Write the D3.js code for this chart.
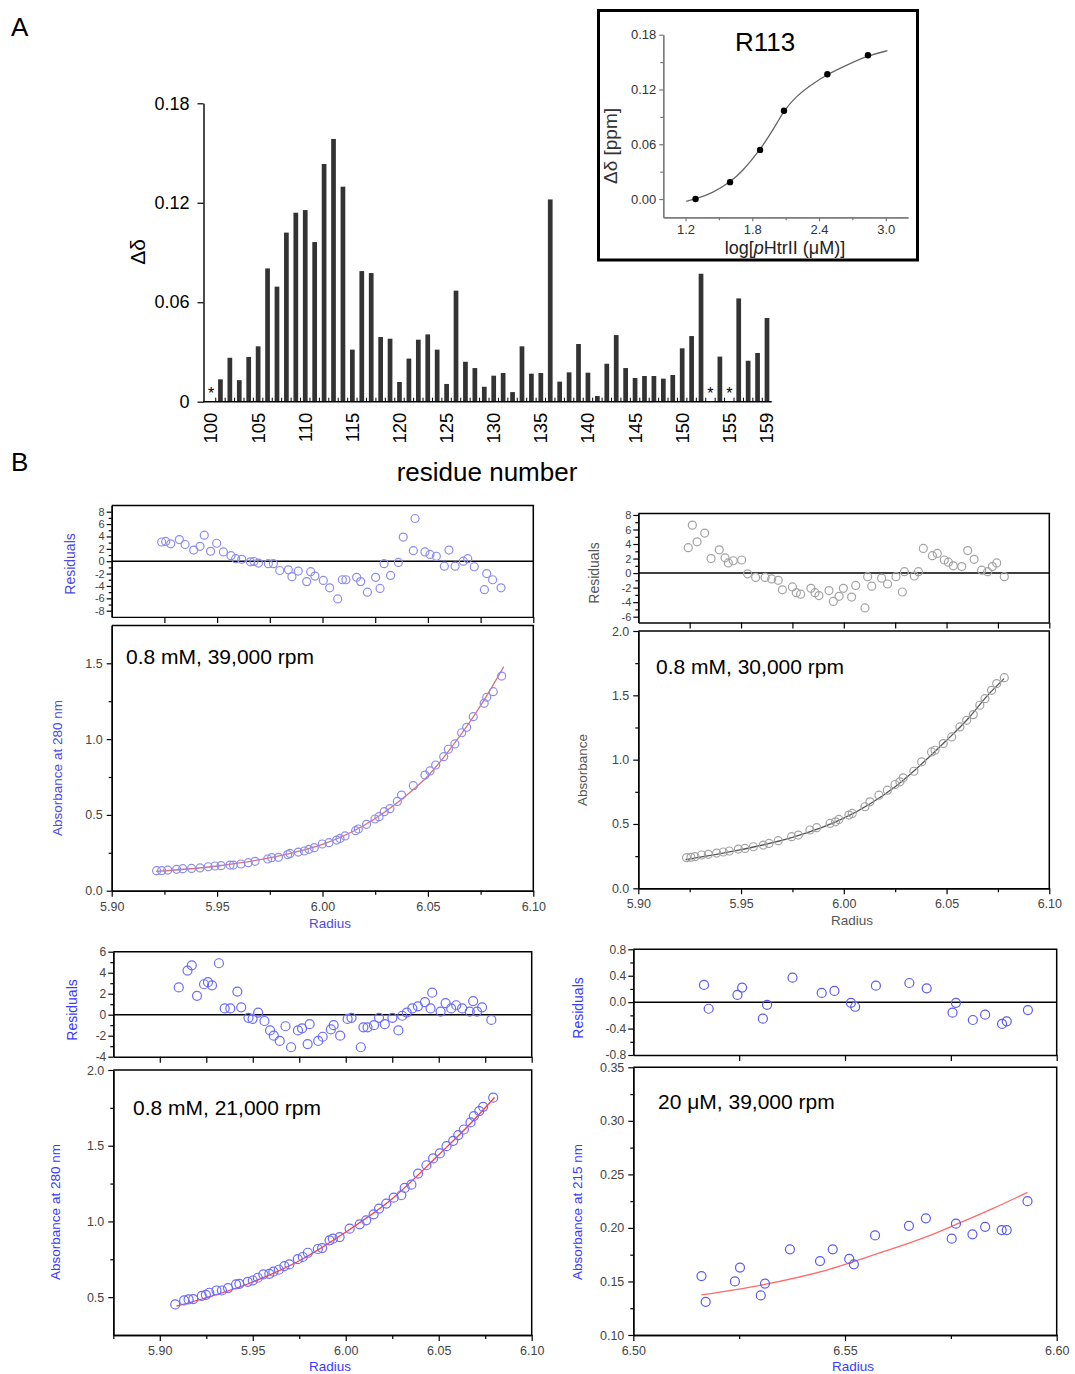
<!DOCTYPE html>
<html>
<head>
<meta charset="utf-8">
<title>Chemical shift perturbation and sedimentation equilibrium</title>
<script src="https://d3js.org/d3.v7.min.js"></script>
<style>
  body { margin: 0; background: #fff; }
  svg { display: block; font-family: Arial, "Liberation Sans", sans-serif; }
</style>
</head>
<body>
<svg width="1075" height="1374"></svg>
<script>
// ---- panel A: chemical shift change per residue (null = not assigned, drawn as *)
const residueNumbers = [100,101,102,103,104,105,106,107,108,109,110,111,112,113,114,115,116,117,118,119,
  120,121,122,123,124,125,126,127,128,129,130,131,132,133,134,135,136,137,138,139,
  140,141,142,143,144,145,146,147,148,149,150,151,152,153,154,155,156,157,158,159];
const chemShift = [null,0.0135,0.0265,0.013,0.027,0.0334,0.0804,0.0694,0.102,0.114,
  0.1156,0.0963,0.1434,0.1585,0.1297,0.0314,0.0788,0.0776,0.039,0.038,
  0.0119,0.026,0.0374,0.0406,0.0314,0.0107,0.067,0.0241,0.0203,0.009,
  0.0157,0.0173,0.0058,0.0334,0.0169,0.0173,0.122,0.0121,0.0177,0.0348,
  0.0175,0.0034,0.0229,0.0402,0.0203,0.0143,0.0155,0.0155,0.0139,0.0161,
  0.0322,0.0396,0.0772,null,0.0272,null,0.0623,0.0247,0.0294,0.0505];
const residueTicks = [100,105,110,115,120,125,130,135,140,145,150,155,159];
const shiftTicks = [0, 0.06, 0.12, 0.18];

// inset: titration of R113
const titrLogConc = [1.29, 1.60, 1.87, 2.085, 2.475, 2.84];
const titrShift = [0.0, 0.0185, 0.0538, 0.0967, 0.1367, 0.1575];
const titrFitConc = [1.206, 1.29, 1.44, 1.60, 1.71, 1.87, 1.95, 2.025, 2.085, 2.19, 2.31, 2.475, 2.64, 2.84, 3.015];
const titrFitShift = [-0.0025, 0.0, 0.0062, 0.0185, 0.030, 0.0538, 0.069, 0.0838, 0.0967, 0.112, 0.1235, 0.1367, 0.1462, 0.1571, 0.1625];

// ---- panel B: 0.8 mM, 39,000 rpm
const tlResRadius = [5.9237,5.9256,5.928,5.9321,5.9348,5.9389,5.9419,5.9439,5.9469,5.9498,5.953,5.9566,5.9588,5.9617,
  5.9658,5.9675,5.9696,5.9743,5.9767,5.9797,5.9838,5.9855,5.9885,5.9925,5.9944,5.9964,6.0004,6.0034,6.0072,6.0094,
  6.0111,6.0162,6.0181,6.0213,6.0252,6.0273,6.0292,6.0323,6.036,6.0383,6.0431,6.0439,6.0486,6.051,6.054,6.0578,
  6.06,6.0629,6.0668,6.0689,6.072,6.0768,6.0779,6.0807,6.0847];
const tlResidual = [3.1,3.2,2.8,3.5,2.7,1.8,2.4,4.2,1.6,2.9,1.5,0.9,0.4,0.3,-0.1,-0.05,-0.3,-0.4,-0.4,-1.5,-1.4,-2.5,
  -1.6,-3.3,-1.7,-2.4,-3.1,-4.3,-6.1,-3.0,-3.0,-2.6,-3.3,-5.0,-2.6,-4.4,-0.4,-2.3,-0.2,3.9,1.7,6.9,1.5,1.1,0.8,
  -0.8,1.8,-0.8,0.0,0.4,-0.9,-4.6,-2.0,-3.0,-4.3];
const tlRadius = [5.9213,5.9237,5.9266,5.9308,5.9337,5.9379,5.9419,5.9458,5.949,5.9519,5.9561,5.9577,5.9613,5.9648,
  5.968,5.974,5.9759,5.9791,5.9835,5.9846,5.9885,5.9914,5.9936,5.9961,5.9999,6.0031,6.0067,6.0083,6.0107,6.0157,
  6.017,6.0209,6.0249,6.0268,6.0293,6.032,6.0355,6.0375,6.0431,6.0486,6.051,6.0537,6.0575,6.0597,6.0628,6.066,
  6.0684,6.0715,6.0767,6.0779,6.081,6.085];
const tlAbsorbance = [0.132,0.132,0.136,0.141,0.145,0.147,0.15,0.158,0.163,0.165,0.169,0.169,0.176,0.185,0.194,0.209,
  0.218,0.22,0.238,0.246,0.255,0.262,0.273,0.284,0.308,0.317,0.334,0.345,0.361,0.396,0.407,0.438,0.473,0.488,0.521,
  0.541,0.589,0.631,0.693,0.763,0.79,0.829,0.884,0.933,0.968,1.042,1.078,1.148,1.236,1.276,1.313,1.416];
const tlFitRadius = [5.921,5.95,5.98,6.00,6.02,6.04,6.05,6.06,6.07,6.08,6.086];
const tlFitAbs = [0.127,0.163,0.231,0.305,0.433,0.631,0.757,0.924,1.115,1.335,1.478];

// 0.8 mM, 30,000 rpm
const trResRadius = [5.9243,5.9263,5.9286,5.9323,5.9354,5.9394,5.9422,5.9438,5.9462,5.9503,5.9532,5.9571,5.9617,5.9649,
  5.9681,5.9701,5.975,5.9769,5.979,5.984,5.986,5.9879,5.9928,5.9949,5.9977,5.9998,6.0038,6.0058,6.0103,6.0116,
  6.0136,6.0184,6.0213,6.0254,6.0285,6.0295,6.0343,6.0363,6.0387,6.0431,6.0455,6.0489,6.0509,6.0533,6.0574,6.0603,
  6.0634,6.0671,6.07,6.0723,6.0744,6.0781];
const trResidual = [3.5,6.6,4.3,5.5,2.0,3.2,2.1,1.4,1.7,1.8,-0.1,-0.6,-0.6,-0.8,-1.0,-2.3,-1.9,-2.7,-2.9,-2.1,-2.7,-3.1,
  -2.4,-3.9,-3.2,-2.1,-3.3,-1.7,-4.8,-0.5,-1.8,-0.7,-1.5,-0.5,-2.6,0.2,-0.4,0.2,3.4,2.4,2.7,1.8,1.5,1.0,0.9,3.1,1.9,
  0.4,0.2,0.9,1.4,-0.5];
const trRadius = [5.9235,5.9256,5.9276,5.9308,5.9341,5.9381,5.9414,5.9443,5.9487,5.9519,5.956,5.9608,5.9636,5.9681,
  5.9746,5.9779,5.9835,5.9868,5.9933,5.996,5.9976,6.0025,6.0041,6.0103,6.0127,6.0171,6.0212,6.0249,6.0273,6.0289,
  6.0341,6.0379,6.0427,6.0444,6.0484,6.0525,6.0565,6.0598,6.063,6.0662,6.0687,6.0719,6.0744,6.0781];
const trAbsorbance = [0.238,0.241,0.246,0.259,0.264,0.274,0.282,0.29,0.305,0.31,0.323,0.336,0.349,0.37,0.401,0.414,
  0.453,0.471,0.504,0.517,0.535,0.569,0.582,0.634,0.672,0.724,0.763,0.807,0.828,0.859,0.91,0.983,1.06,1.073,1.125,
  1.177,1.254,1.306,1.35,1.423,1.474,1.539,1.591,1.637];
const trFitRadius = [5.923,5.95,5.975,6.00,6.025,6.05,6.06,6.07,6.078];
const trFitAbs = [0.222,0.30,0.395,0.545,0.79,1.15,1.31,1.50,1.63];

// 0.8 mM, 21,000 rpm
const blResRadius = [5.9102,5.9149,5.9172,5.92,5.9238,5.9259,5.9281,5.9318,5.9349,5.9379,5.9417,5.9438,5.9477,5.9499,
  5.9529,5.9563,5.9593,5.9613,5.9645,5.9676,5.9706,5.9743,5.9765,5.9795,5.9806,5.9852,5.9876,5.992,5.9935,5.997,
  6.001,6.0031,6.0081,6.0095,6.0117,6.0152,6.0179,6.021,6.0251,6.0283,6.0304,6.0328,6.0358,6.0388,6.0426,6.0456,
  6.0465,6.051,6.0537,6.0567,6.0594,6.0626,6.0667,6.0685,6.0706,6.0733,6.0783];
const blResidual = [2.6,4.2,4.7,1.8,2.9,3.1,2.8,4.9,0.6,0.6,2.2,0.7,-0.3,-0.4,0.2,-0.6,-1.5,-2.0,-2.5,-1.1,-3.1,-1.5,
  -1.3,-2.8,-0.9,-2.5,-2.1,-1.4,-1.0,-2.0,-0.4,-0.3,-3.1,-1.2,-1.2,-1.0,-0.3,-0.9,-0.3,-1.5,-0.1,0.2,0.6,0.8,1.2,
  0.6,2.1,0.3,1.1,0.6,0.9,0.6,0.3,1.3,0.3,0.7,-0.5];
const blRadius = [5.9083,5.9131,5.9155,5.918,5.9226,5.9248,5.9266,5.9305,5.9334,5.9367,5.941,5.9428,5.9473,5.95,
  5.9527,5.9557,5.9589,5.9611,5.964,5.967,5.9697,5.9742,5.9769,5.9796,5.985,5.9873,5.9913,5.9931,5.9967,6.0021,
  6.0075,6.011,6.015,6.0179,6.0218,6.0258,6.0299,6.0317,6.0353,6.0389,6.0434,6.047,6.0506,6.0542,6.0578,6.0605,
  6.0635,6.0671,6.0689,6.0718,6.0739,6.0793];
const blAbsorbance = [0.452,0.478,0.485,0.487,0.509,0.515,0.529,0.544,0.544,0.56,0.584,0.588,0.601,0.61,0.628,0.65,
  0.654,0.668,0.681,0.705,0.716,0.751,0.765,0.793,0.818,0.824,0.875,0.886,0.897,0.952,0.981,1.007,1.047,1.085,1.118,
  1.157,1.173,1.221,1.243,1.316,1.371,1.416,1.449,1.497,1.532,1.57,1.607,1.654,1.696,1.729,1.757,1.817];
const blFitRadius = [5.909,5.95,5.975,6.00,6.025,6.05,6.065,6.08];
const blFitAbs = [0.44,0.60,0.74,0.93,1.15,1.44,1.62,1.819];

// 20 uM, 39,000 rpm
const brResRadius = [6.5167,6.5178,6.5246,6.5257,6.5306,6.5316,6.5376,6.5445,6.5475,6.5514,6.5524,6.5573,6.5652,
  6.5693,6.5754,6.5762,6.5802,6.5831,6.5871,6.5882,6.5932];
const brResidual = [0.26,-0.10,0.11,0.22,-0.25,-0.04,0.37,0.14,0.17,-0.01,-0.07,0.25,0.29,0.21,-0.16,-0.01,-0.27,
  -0.19,-0.33,-0.29,-0.12];
const brRadius = [6.5161,6.5171,6.524,6.5252,6.5301,6.5311,6.537,6.5441,6.5471,6.551,6.5521,6.5571,6.5651,6.5691,
  6.5752,6.5762,6.5801,6.5831,6.587,6.5882,6.5931];
const brAbsorbance = [0.155,0.131,0.150,0.163,0.137,0.148,0.180,0.169,0.180,0.171,0.166,0.193,0.202,0.209,0.190,
  0.204,0.194,0.201,0.198,0.198,0.225];
const brFitRadius = [6.5161,6.5299,6.5457,6.5575,6.5693,6.5772,6.585,6.5931];
const brFitAbs = [0.1374,0.1464,0.1607,0.1757,0.1918,0.2049,0.2183,0.2332];

const svg = d3.select("svg");
const zip = (a, b) => a.map((v, i) => [v, b[i]]);

function axisStyle(sel, size, color) {
  sel.attr("font-size", size).attr("font-family", null);
  sel.select(".domain").attr("stroke", "#000").attr("stroke-width", 1.4);
  sel.selectAll(".tick line").attr("stroke", "#000").attr("stroke-width", 1.2);
  sel.selectAll(".tick text").attr("fill", color || "#444");
}

// panel letters
svg.append("text").attr("x", 11).attr("y", 36).attr("font-size", 26).text("A");
svg.append("text").attr("x", 11).attr("y", 471).attr("font-size", 26).text("B");

// ================= bar chart =================
const xBar = d3.scaleBand().domain(residueNumbers).range([206.3, 771.7]).paddingInner(0.5).paddingOuter(0.25);
const yBar = d3.scaleLinear().domain([0, 0.18]).range([401.7, 103.3]);
const step = xBar.step();

svg.append("g").selectAll("rect")
  .data(residueNumbers.map((r, i) => ({ r, v: chemShift[i] })).filter(d => d.v !== null))
  .enter().append("rect")
  .attr("x", d => xBar(d.r))
  .attr("width", xBar.bandwidth())
  .attr("y", d => yBar(d.v))
  .attr("height", d => yBar(0) - yBar(d.v))
  .attr("fill", "#333");

svg.append("g").selectAll("text")
  .data(residueNumbers.filter((r, i) => chemShift[i] === null))
  .enter().append("text")
  .attr("x", d => xBar(d) + xBar.bandwidth() / 2)
  .attr("y", 399)
  .attr("text-anchor", "middle")
  .attr("font-size", 16)
  .text("*");

svg.append("g").attr("transform", "translate(203.5,0)")
  .call(d3.axisLeft(yBar).tickValues(shiftTicks).tickSize(6).tickPadding(8).tickSizeOuter(0)
    .tickFormat(d => d === 0 ? "0" : d.toFixed(2)))
  .call(axisStyle, 18, "#000");

// baseline with small ticks between bars
svg.append("line").attr("x1", 203).attr("x2", 771.7).attr("y1", yBar(0)).attr("y2", yBar(0))
  .attr("stroke", "#000").attr("stroke-width", 1.5);
svg.append("g").selectAll("line")
  .data(residueNumbers.slice(0, -1))
  .enter().append("line")
  .attr("x1", d => xBar(d) + xBar.bandwidth() / 2 + step / 2)
  .attr("x2", d => xBar(d) + xBar.bandwidth() / 2 + step / 2)
  .attr("y1", yBar(0)).attr("y2", yBar(0) - 4)
  .attr("stroke", "#000").attr("stroke-width", 1);

svg.append("g").selectAll("text")
  .data(residueTicks)
  .enter().append("text")
  .attr("transform", d => `translate(${xBar(d) + xBar.bandwidth() / 2},${yBar(0) + 11}) rotate(-90)`)
  .attr("dy", "0.35em")
  .attr("text-anchor", "end")
  .attr("font-size", 18.5)
  .text(d => d);

svg.append("text").attr("transform", "translate(138,252) rotate(-90)")
  .attr("text-anchor", "middle").attr("dy", "0.35em").attr("font-size", 21).text("Δδ");
svg.append("text").attr("x", 487).attr("y", 481).attr("text-anchor", "middle")
  .attr("font-size", 26).text("residue number");

// ================= inset =================
svg.append("rect").attr("x", 598.5).attr("y", 10.5).attr("width", 319).attr("height", 249.5)
  .attr("fill", "#fff").attr("stroke", "#000").attr("stroke-width", 3);

const xIn = d3.scaleLinear().domain([1.0, 3.2]).range([663.3, 908]);
const yIn = d3.scaleLinear().domain([-0.02, 0.18]).range([217.3, 34.7]);

const inset = svg.append("g");
inset.append("g").attr("transform", "translate(0,217.3)")
  .call(d3.axisBottom(xIn).tickValues([1.5, 2.1, 2.7]).tickSize(3).tickFormat("").tickSizeOuter(0))
  .call(axisStyle, 13);
inset.append("g").attr("transform", "translate(0,217.3)")
  .call(d3.axisBottom(xIn).tickValues([1.2, 1.8, 2.4, 3.0]).tickSize(4).tickPadding(3).tickSizeOuter(0)
    .tickFormat(d => d.toFixed(1)))
  .call(axisStyle, 13);
inset.append("g").attr("transform", "translate(663.3,0)")
  .call(d3.axisLeft(yIn).tickValues([0.03, 0.09, 0.15]).tickSize(3).tickFormat("").tickSizeOuter(0))
  .call(axisStyle, 13);
inset.append("g").attr("transform", "translate(663.3,0)")
  .call(d3.axisLeft(yIn).tickValues([0, 0.06, 0.12, 0.18]).tickSize(4).tickPadding(3).tickSizeOuter(0)
    .tickFormat(d => d.toFixed(2)))
  .call(axisStyle, 13);
inset.selectAll(".domain").attr("stroke", "#777").attr("stroke-width", 1.2);
inset.selectAll(".tick line").attr("stroke", "#777");
inset.selectAll(".tick text").attr("fill", "#333");

inset.append("path")
  .datum(zip(titrFitConc, titrFitShift))
  .attr("d", d3.line().x(d => xIn(d[0])).y(d => yIn(d[1])).curve(d3.curveBasis))
  .attr("fill", "none").attr("stroke", "#666").attr("stroke-width", 1.3);
inset.append("g").selectAll("circle")
  .data(zip(titrLogConc, titrShift))
  .enter().append("circle")
  .attr("cx", d => xIn(d[0])).attr("cy", d => yIn(d[1])).attr("r", 3.2).attr("fill", "#000");

inset.append("text").attr("x", 765).attr("y", 51).attr("text-anchor", "middle")
  .attr("font-size", 26).text("R113");
inset.append("text").attr("transform", "translate(610,146) rotate(-90)")
  .attr("text-anchor", "middle").attr("dy", "0.35em").attr("font-size", 19).attr("fill", "#333")
  .text("Δδ [ppm]");
const xLab = inset.append("text").attr("x", 785).attr("y", 254).attr("text-anchor", "middle")
  .attr("font-size", 18).attr("fill", "#222");
xLab.append("tspan").text("log[");
xLab.append("tspan").attr("font-style", "italic").text("p");
xLab.append("tspan").text("HtrII (μM)]");

// ================= sedimentation panels =================
function fitPanel(p) {
  const x = d3.scaleLinear().domain(p.xDomain).range(p.xRange);
  const yRes = d3.scaleLinear().domain(p.resDomain).range(p.resRange);
  const yAbs = d3.scaleLinear().domain(p.absDomain).range(p.absRange);
  const [left, right] = p.xRange;
  const g = svg.append("g");

  // --- residuals
  const rTop = p.resRange[1], rBot = p.resRange[0];
  g.append("path").attr("d", `M${left},${rTop}H${right}V${rBot}`)
    .attr("fill", "none").attr("stroke", "#000").attr("stroke-width", 1.5);
  g.append("g").attr("transform", `translate(0,${rBot})`)
    .call(d3.axisBottom(x).tickValues(p.resXTicks).tickSize(6).tickFormat("").tickSizeOuter(0))
    .call(axisStyle, 11);
  g.append("g").attr("transform", `translate(${left},0)`)
    .call(d3.axisLeft(yRes).tickValues(p.resMinor).tickSize(3).tickFormat("").tickSizeOuter(0))
    .call(axisStyle, 11);
  g.append("g").attr("transform", `translate(${left},0)`)
    .call(d3.axisLeft(yRes).tickValues(p.resTicks).tickSize(5).tickPadding(2).tickSizeOuter(0)
      .tickFormat(p.resFormat))
    .call(axisStyle, p.resFont);
  g.append("line").attr("x1", left).attr("x2", right).attr("y1", yRes(0)).attr("y2", yRes(0))
    .attr("stroke", "#000").attr("stroke-width", 1.5);
  g.append("g").selectAll("circle")
    .data(zip(p.resX, p.resY))
    .enter().append("circle")
    .attr("cx", d => x(d[0])).attr("cy", d => yRes(d[1])).attr("r", p.r)
    .attr("fill", "none").attr("stroke", p.dotColor).attr("stroke-width", 1.2);
  g.append("text").attr("transform", `translate(${p.resLabel[0]},${p.resLabel[1]}) rotate(-90)`)
    .attr("text-anchor", "middle").attr("dy", "0.35em").attr("font-size", 14)
    .attr("fill", p.labelColor).text("Residuals");

  // --- absorbance
  const aTop = p.absRange[1], aBot = p.absRange[0];
  g.append("path").attr("d", `M${left},${aTop}H${right}V${aBot}`)
    .attr("fill", "none").attr("stroke", "#000").attr("stroke-width", 1.5);
  g.append("g").attr("transform", `translate(0,${aBot})`)
    .call(d3.axisBottom(x).tickValues(p.xMinor).tickSize(4).tickFormat("").tickSizeOuter(0))
    .call(axisStyle, 12.5);
  g.append("g").attr("transform", `translate(0,${aBot})`)
    .call(d3.axisBottom(x).tickValues(p.xTicks).tickSize(6).tickPadding(5).tickSizeOuter(0)
      .tickFormat(d => d.toFixed(2)))
    .call(axisStyle, 12.5);
  g.append("g").attr("transform", `translate(${left},0)`)
    .call(d3.axisLeft(yAbs).tickValues(p.absMinor).tickSize(3).tickFormat("").tickSizeOuter(0))
    .call(axisStyle, 12.5);
  g.append("g").attr("transform", `translate(${left},0)`)
    .call(d3.axisLeft(yAbs).tickValues(p.absTicks).tickSize(5).tickPadding(4).tickSizeOuter(0)
      .tickFormat(p.absFormat))
    .call(axisStyle, 12.5);

  g.append("path")
    .datum(zip(p.fitX, p.fitY))
    .attr("d", d3.line().x(d => x(d[0])).y(d => yAbs(d[1])).curve(d3.curveMonotoneX))
    .attr("fill", "none").attr("stroke", p.lineColor).attr("stroke-width", 1.3);
  g.append("g").selectAll("circle")
    .data(zip(p.absX, p.absY))
    .enter().append("circle")
    .attr("cx", d => x(d[0])).attr("cy", d => yAbs(d[1])).attr("r", p.r)
    .attr("fill", "none").attr("stroke", p.dotColor).attr("stroke-width", 1.2);

  g.append("text").attr("x", p.title[0]).attr("y", p.title[1]).attr("font-size", 21).text(p.title[2]);
  g.append("text").attr("transform", `translate(${p.absLabel[0]},${p.absLabel[1]}) rotate(-90)`)
    .attr("text-anchor", "middle").attr("dy", "0.35em").attr("font-size", 13.5)
    .attr("fill", p.labelColor).text(p.absLabel[2]);
  g.append("text").attr("x", p.radiusLabel[0]).attr("y", p.radiusLabel[1]).attr("text-anchor", "middle")
    .attr("font-size", 13.5).attr("fill", p.labelColor).text("Radius");
}

const fixed1 = d => d.toFixed(1);
const plain = d => String(d);

fitPanel({
  xDomain: [5.90, 6.10], xRange: [111.7, 533.3],
  resDomain: [-9, 9], resRange: [616.9, 505.5],
  absDomain: [0, 1.75], absRange: [890.7, 625.4],
  resTicks: [-8,-6,-4,-2,0,2,4,6,8], resMinor: [-7,-5,-3,-1,1,3,5,7], resFormat: plain, resFont: 11,
  resXTicks: [5.925,5.95,5.975,6.0,6.025,6.05,6.075,6.10],
  absTicks: [0, 0.5, 1.0, 1.5], absMinor: [0.25, 0.75, 1.25], absFormat: fixed1,
  xTicks: [5.90, 5.95, 6.00, 6.05, 6.10], xMinor: [5.925, 5.975, 6.025, 6.075],
  resX: tlResRadius, resY: tlResidual, absX: tlRadius, absY: tlAbsorbance,
  fitX: tlFitRadius, fitY: tlFitAbs,
  r: 4, dotColor: "#8c8cf2", lineColor: "#d9727c", labelColor: "#4a4ae6",
  title: [126, 664, "0.8 mM, 39,000 rpm"],
  resLabel: [70, 564], absLabel: [57, 768, "Absorbance at 280 nm"], radiusLabel: [330, 928]
});

fitPanel({
  xDomain: [5.90, 6.10], xRange: [638.3, 1049.3],
  resDomain: [-6.8, 8.2], resRange: [622.5, 513.5],
  absDomain: [0, 2.0], absRange: [888.3, 631],
  resTicks: [-6,-4,-2,0,2,4,6,8], resMinor: [-5,-3,-1,1,3,5,7], resFormat: plain, resFont: 11,
  resXTicks: [5.925,5.95,5.975,6.0,6.025,6.05,6.075,6.10],
  absTicks: [0, 0.5, 1.0, 1.5, 2.0], absMinor: [0.25, 0.75, 1.25, 1.75], absFormat: fixed1,
  xTicks: [5.90, 5.95, 6.00, 6.05, 6.10], xMinor: [5.925, 5.975, 6.025, 6.075],
  resX: trResRadius, resY: trResidual, absX: trRadius, absY: trAbsorbance,
  fitX: trFitRadius, fitY: trFitAbs,
  r: 4, dotColor: "#a3a3a3", lineColor: "#555", labelColor: "#555",
  title: [656, 674, "0.8 mM, 30,000 rpm"],
  resLabel: [594, 573], absLabel: [582, 770, "Absorbance"], radiusLabel: [852, 925]
});

fitPanel({
  xDomain: [5.875, 6.10], xRange: [113.3, 531.7],
  resDomain: [-4, 6], resRange: [1056.7, 951.7],
  absDomain: [0.25, 2.0], absRange: [1335, 1070],
  resTicks: [-4,-2,0,2,4,6], resMinor: [-3,-1,1,3,5], resFormat: plain, resFont: 12,
  resXTicks: [5.90,5.925,5.95,5.975,6.0,6.025,6.05,6.075,6.10],
  absTicks: [0.5, 1.0, 1.5, 2.0], absMinor: [0.75, 1.25, 1.75], absFormat: fixed1,
  xTicks: [5.90, 5.95, 6.00, 6.05, 6.10], xMinor: [5.875, 5.925, 5.975, 6.025, 6.075],
  resX: blResRadius, resY: blResidual, absX: blRadius, absY: blAbsorbance,
  fitX: blFitRadius, fitY: blFitAbs,
  r: 4.5, dotColor: "#6b6bff", lineColor: "#ff3a3a", labelColor: "#3a3aff",
  title: [133, 1115, "0.8 mM, 21,000 rpm"],
  resLabel: [72, 1010], absLabel: [55, 1212, "Absorbance at 280 nm"], radiusLabel: [330, 1371]
});

fitPanel({
  xDomain: [6.50, 6.60], xRange: [633.3, 1056.7],
  resDomain: [-0.8, 0.8], resRange: [1055, 949.3],
  absDomain: [0.10, 0.35], absRange: [1335, 1067.3],
  resTicks: [-0.8,-0.4,0,0.4,0.8], resMinor: [-0.6,-0.2,0.2,0.6], resFormat: fixed1, resFont: 12,
  resXTicks: [6.525, 6.55, 6.575, 6.60],
  absTicks: [0.10, 0.15, 0.20, 0.25, 0.30, 0.35], absMinor: [0.125, 0.175, 0.225, 0.275, 0.325],
  absFormat: d => d.toFixed(2),
  xTicks: [6.50, 6.55, 6.60], xMinor: [6.525, 6.575],
  resX: brResRadius, resY: brResidual, absX: brRadius, absY: brAbsorbance,
  fitX: brFitRadius, fitY: brFitAbs,
  r: 4.5, dotColor: "#5a5af5", lineColor: "#ff6a6a", labelColor: "#3a3aff",
  title: [658, 1109, "20 μM, 39,000 rpm"],
  resLabel: [578, 1008], absLabel: [577, 1212, "Absorbance at 215 nm"], radiusLabel: [853, 1371]
});
</script>
</body>
</html>
